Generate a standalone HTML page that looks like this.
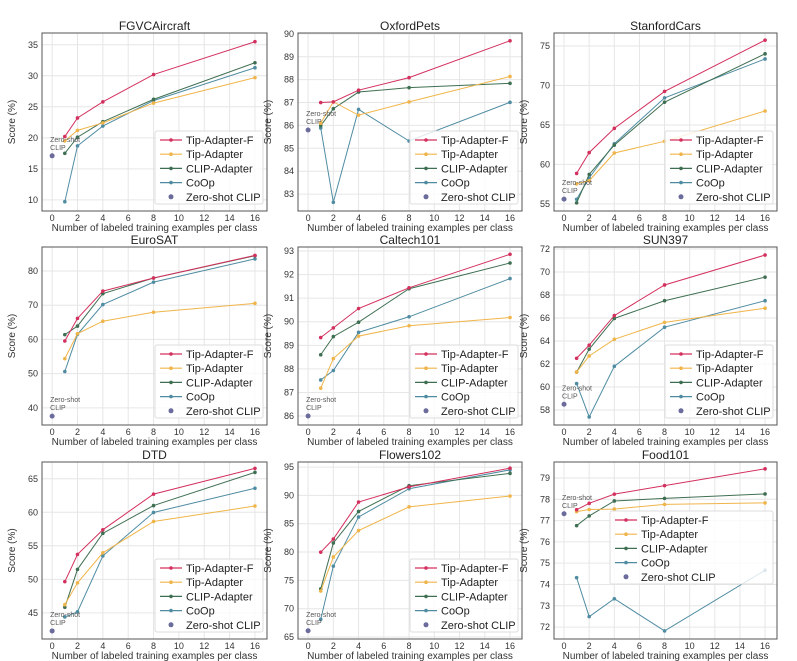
<!DOCTYPE html>
<html><head><meta charset="utf-8"><style>
html,body{margin:0;padding:0;background:#fff;}
svg{display:block;font-family:"Liberation Sans","DejaVu Sans",sans-serif;}
</style></head><body>
<svg id="fig" width="797" height="661" viewBox="0 0 797 661"></svg>
<script>
const shots = [1, 2, 4, 8, 16];
const xTicks = [0, 2, 4, 6, 8, 10, 12, 14, 16];
const datasets = ["FGVCAircraft","OxfordPets","StanfordCars","EuroSAT","Caltech101","SUN397","DTD","Flowers102","Food101"];
const seriesNames = ["Tip-Adapter-F","Tip-Adapter","CLIP-Adapter","CoOp"];
const tipF = [
 [20.2,23.2,25.8,30.2,35.5],
 [87.0,87.03,87.54,88.09,89.70],
 [58.86,61.50,64.57,69.25,75.74],
 [59.53,66.15,74.12,77.93,84.54],
 [89.33,89.74,90.56,91.44,92.86],
 [62.50,63.64,66.21,68.87,71.47],
 [49.65,53.72,57.39,62.71,66.55],
 [79.98,82.30,88.83,91.51,94.80],
 [77.51,77.81,78.24,78.64,79.43]];
const tipA = [
 [19.5,21.2,22.4,25.6,29.7],
 [86.10,87.03,86.45,87.03,88.14],
 [57.54,57.93,61.45,62.93,66.77],
 [54.38,61.68,65.32,67.95,70.54],
 [87.18,88.44,89.39,89.83,90.18],
 [61.30,62.70,64.15,65.62,66.85],
 [46.22,49.47,53.96,58.63,60.93],
 [73.12,79.13,83.80,87.98,89.89],
 [77.42,77.52,77.54,77.76,77.83]];
const clipA = [
 [17.5,20.1,22.6,26.2,32.1],
 [85.99,86.73,87.46,87.65,87.84],
 [55.13,58.74,62.45,67.89,74.01],
 [61.40,63.90,73.38,77.93,84.43],
 [88.60,89.37,89.98,91.40,92.49],
 [61.30,63.29,65.96,67.50,69.55],
 [45.83,51.48,56.86,61.00,65.96],
 [73.49,81.61,87.17,91.72,93.90],
 [76.76,77.22,77.92,78.04,78.25]];
const coop = [
 [9.7,18.7,21.9,26.0,31.3],
 [85.89,82.64,86.70,85.32,87.01],
 [55.59,58.28,62.62,68.43,73.36],
 [50.63,61.50,70.18,76.73,83.53],
 [87.53,87.93,89.55,90.21,91.83],
 [60.3,57.4,61.8,65.2,67.5],
 [44.39,45.15,53.49,59.97,63.58],
 [68.12,77.51,86.20,91.18,94.51],
 [74.32,72.49,73.33,71.82,74.67]];
const zeroShot = [17.1,85.8,55.6,37.6,86.0,58.5,42.3,66.1,77.32];
const yTicks = [
 [10,15,20,25,30,35],[83,84,85,86,87,88,89,90],[55,60,65,70,75],
 [40,50,60,70,80],[86,87,88,89,90,91,92,93],[58,60,62,64,66,68,70,72],
 [45,50,55,60,65],[65,70,75,80,85,90,95],[72,73,74,75,76,77,78,79]];
const yDomains = [
 [8.2,36.9],[82.26,90.04],[54.1,76.65],
 [35,87],[85.62,93.17],[56.7,72.17],
 [41.1,67.5],[64.65,95.9],[71.44,79.75]];
const xDomain = [-0.8,16.95];

const NS="http://www.w3.org/2000/svg";
const svg=document.getElementById('fig');
const colors=["#d3305e","#f0b54a","#3f6f52","#4f8ca2"];
const colLeft=[42,298,554], colRight=[267,522,777];
const rowTop=[33,247,462], rowBot=[211,425,639];
function mk(tag,attrs,parent){const e=document.createElementNS(NS,tag);for(const k in attrs)e.setAttribute(k,attrs[k]);(parent||svg).appendChild(e);return e;}

datasets.forEach((name,i)=>{
  const c=i%3, r=Math.floor(i/3);
  const L=colLeft[c],R=colRight[c],T=rowTop[r],B=rowBot[r];
  const yd=yDomains[i];
  const sx=v=>L+(v-xDomain[0])/(xDomain[1]-xDomain[0])*(R-L);
  const sy=v=>B-(v-yd[0])/(yd[1]-yd[0])*(B-T);
  const g=mk('g',{});
  
  
  xTicks.forEach(t=>{
    const l=mk('line',{x1:sx(t),x2:sx(t),y1:T,y2:B,stroke:'#e6e6e6','stroke-width':1},g);
    
    
    const tx=mk('text',{x:sx(t),y:B+10,'font-size':9,'text-anchor':'middle',fill:'#333'},g);
    tx.textContent=t;
    
    
  });
  yTicks[i].forEach(t=>{
    const l=mk('line',{x1:L,x2:R,y1:sy(t),y2:sy(t),stroke:'#e6e6e6','stroke-width':1},g);
    
    
    const tx=mk('text',{x:L-4,y:sy(t)+3,'font-size':9,'text-anchor':'end',fill:'#333'},g);
    tx.textContent=t;
    
    
  });
  const frame=mk('rect',{x:L,y:T,width:R-L,height:B-T,fill:'none',stroke:'#555','stroke-width':1},g);
  
  
  const title=mk('text',{x:(L+R)/2,y:T-3,'font-size':12,'text-anchor':'middle',fill:'#222'},g);
  title.textContent=name;
  
  
  const xl=mk('text',{x:(L+R)/2,y:B+20,'font-size':10,'text-anchor':'middle',fill:'#333'},g);
  xl.textContent='Number of labeled training examples per class';
  
  
  const yx=L-27, yy=(T+B)/2;
  const yl=mk('text',{x:yx,y:yy,'font-size':10,'text-anchor':'middle',fill:'#333',transform:`rotate(-90 ${yx} ${yy})`},g);
  yl.textContent='Score (%)';
  
  
  const all=[tipF[i],tipA[i],clipA[i],coop[i]];
  [3,2,1,0].forEach(s=>{
    const pts=shots.map((x,k)=>sx(x)+','+sy(all[s][k])).join(' ');
    const pl=mk('polyline',{points:pts,fill:'none',stroke:colors[s],'stroke-width':1},g);
    
    
    shots.forEach((x,k)=>{
      const m=mk('circle',{cx:sx(x),cy:sy(all[s][k]),r:1.8,fill:colors[s]},g);
      
      
    });
  });
  const zs=mk('circle',{cx:sx(0),cy:sy(zeroShot[i]),r:2.5,fill:'#6b6b9c'},g);
  
  
  const a1=mk('text',{x:sx(0)-2,y:sy(zeroShot[i])-14,'font-size':7,'text-anchor':'start',fill:'#555'},g);
  a1.textContent='Zero-shot';
  
  
  const a2=mk('text',{x:sx(0)-2,y:sy(zeroShot[i])-6,'font-size':7,'text-anchor':'start',fill:'#555'},g);
  a2.textContent='CLIP';
  
  
  let lx=R-107, ly=B-71;
  if(i===8){lx=615; ly=520;}
  const lg=mk('g',{},g);
  
  
  const bg=mk('rect',{x:lx-5,y:ly-9,width:R-lx+1,height:73,fill:'#fff','fill-opacity':0.8,stroke:'#ddd',rx:2},lg);
  
  
  seriesNames.concat(['Zero-shot CLIP']).forEach((n,k)=>{
    const y=ly+k*14.2;
    if(k<4){
      const ln=mk('line',{x1:lx,x2:lx+22,y1:y,y2:y,stroke:colors[k],'stroke-width':1.2},lg);
      
      
      mk('circle',{cx:lx+11,cy:y,r:1.8,fill:colors[k]},lg);
    } else {
      mk('circle',{cx:lx+11,cy:y,r:2.5,fill:'#6b6b9c'},lg);
    }
    const t=mk('text',{x:lx+26,y:y+4,'font-size':11,fill:'#222'},lg);
    t.textContent=n;
    
    
  });
});
</script>
</body></html>
